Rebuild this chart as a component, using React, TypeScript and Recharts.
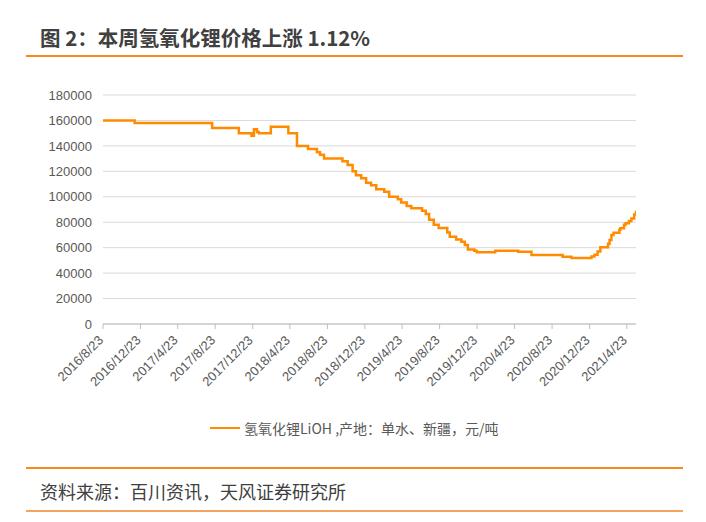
import React from "react";
import { LineChart, Line, XAxis, YAxis, CartesianGrid } from "recharts";

const priceDates: string[] = [
  "2016/8/23", "2016/12/4", "2017/8/13", "2017/11/8", "2017/12/19", "2017/12/27",
  "2018/1/6", "2018/1/12", "2018/2/20", "2018/4/18", "2018/5/16", "2018/6/21",
  "2018/7/20", "2018/7/30", "2018/8/12", "2018/10/11", "2018/10/28", "2018/11/13",
  "2018/11/24", "2018/12/11", "2018/12/27", "2019/1/12", "2019/1/29", "2019/2/24",
  "2019/3/12", "2019/4/9", "2019/4/20", "2019/5/8", "2019/5/23", "2019/6/27",
  "2019/7/9", "2019/7/20", "2019/8/4", "2019/8/20", "2019/9/17", "2019/9/25",
  "2019/10/16", "2019/11/2", "2019/11/13", "2019/11/23", "2019/12/14", "2019/12/22",
  "2020/2/20", "2020/5/5", "2020/6/17", "2020/9/26", "2020/10/25", "2020/12/29",
  "2021/1/8", "2021/1/18", "2021/1/27", "2021/2/21", "2021/2/26", "2021/3/4",
  "2021/3/11", "2021/3/30", "2021/4/2", "2021/4/14", "2021/4/19", "2021/4/30",
  "2021/5/8", "2021/5/17", "2021/5/23",
];

const lithiumHydroxide: number[] = [
  160000, 158000, 154000, 150000, 148000, 153000,
  151000, 150000, 155000, 150000, 140000, 137500,
  135000, 133000, 130000, 128000, 125000, 120000,
  117000, 114500, 111000, 109000, 106000, 104000,
  100000, 98000, 95500, 92700, 91000, 89000,
  86500, 82000, 78000, 75500, 72000, 68500,
  66500, 64700, 62000, 58500, 57500, 56400,
  57600, 56800, 54200, 52800, 51800, 53000,
  54500, 57000, 60300, 63000, 66000, 70000,
  71800, 74000, 75200, 78000, 79100, 81000,
  83000, 86000, 89000,
];

const xTickLabels: string[] = [
  "2016/8/23", "2016/12/23", "2017/4/23", "2017/8/23", "2017/12/23",
  "2018/4/23", "2018/8/23", "2018/12/23", "2019/4/23", "2019/8/23",
  "2019/12/23", "2020/4/23", "2020/8/23", "2020/12/23", "2021/4/23",
];

const yTicks: number[] = [0, 20000, 40000, 60000, 80000, 100000, 120000, 140000, 160000, 180000];

const axisStart = "2016/8/23";
const axisEnd = "2021/5/23";

const seriesName = "氢氧化锂LiOH ,产地：单水、新疆，元/吨";
const titleText = "图 2：本周氢氧化锂价格上涨 1.12%";
const sourceText = "资料来源：百川资讯，天风证券研究所";

const toDay = (s: string): number => {
  const [y, m, d] = s.split("/").map(Number);
  return Date.UTC(y, m - 1, d) / 86400000;
};

const data = priceDates.map((d, i) => ({ t: toDay(d), v: lithiumHydroxide[i] }));
const xTicks = xTickLabels.map(toDay);
const labelByDay: Record<number, string> = {};
xTickLabels.forEach((l) => (labelByDay[toDay(l)] = l));

const LATIN = "'Liberation Sans', Arial, 'Noto Sans CJK SC', sans-serif";
const CJK = "'Noto Sans CJK SC', 'Liberation Sans', sans-serif";
const ORANGE = "#FF8C00";

const XTick = (props: any) => {
  const { x, y, payload } = props;
  const ax = x + 1;
  const ay = y + 10;
  return (
    <text
      x={ax}
      y={ay}
      transform={`rotate(-45, ${ax}, ${ay})`}
      textAnchor="end"
      fontSize={13}
      fontFamily={LATIN}
      fill="#595959"
    >
      {labelByDay[payload.value] ?? ""}
    </text>
  );
};

export default function App() {
  return (
    <div
      style={{
        position: "absolute",
        left: 0,
        top: 0,
        width: 706,
        height: 522,
        background: "#ffffff",
        overflow: "hidden",
      }}
    >
      <div
        style={{
          position: "absolute",
          left: 40,
          top: 23,
          fontFamily: CJK,
          fontWeight: 700,
          fontSize: 20.5,
          lineHeight: "28px",
          color: "#404040",
          whiteSpace: "nowrap",
        }}
      >
        {titleText}
      </div>
      <div style={{ position: "absolute", left: 26, top: 55, width: 657, height: 2, background: "#F28A1E" }} />

      <div style={{ position: "absolute", left: 0, top: 0 }}>
        <LineChart
          width={706}
          height={522}
          data={data}
          margin={{ top: 95, right: 70, bottom: 128, left: 43 }}
        >
          <CartesianGrid vertical={false} stroke="#d9d9d9" strokeWidth={1} />
          <XAxis
            dataKey="t"
            type="number"
            domain={[toDay(axisStart), toDay(axisEnd)]}
            ticks={xTicks}
            interval={0}
            allowDataOverflow
            height={70}
            tick={<XTick />}
            tickLine={{ stroke: "#bfbfbf" }}
            tickSize={5}
            axisLine={{ stroke: "#bfbfbf" }}
          />
          <YAxis
            type="number"
            domain={[0, 180000]}
            ticks={yTicks}
            interval={0}
            width={60}
            axisLine={false}
            tickLine={false}
            tickMargin={5}
            tick={{ fontSize: 13, fill: "#595959", fontFamily: LATIN }}
          />
          <Line
            type="stepAfter"
            dataKey="v"
            name={seriesName}
            stroke={ORANGE}
            strokeWidth={2.5}
            dot={false}
            isAnimationActive={false}
          />
        </LineChart>
      </div>

      <div
        style={{
          position: "absolute",
          left: 210,
          top: 418,
          display: "flex",
          alignItems: "center",
          height: 20,
          whiteSpace: "nowrap",
        }}
      >
        <div style={{ width: 30, height: 2.5, background: ORANGE, marginRight: 4 }} />
        <span style={{ fontFamily: CJK, fontSize: 14, color: "#595959", lineHeight: "20px" }}>
          {seriesName}
        </span>
      </div>

      <div style={{ position: "absolute", left: 26, top: 467, width: 657, height: 2, background: "#F28A1E" }} />
      <div
        style={{
          position: "absolute",
          left: 40,
          top: 479,
          fontFamily: CJK,
          fontSize: 18,
          lineHeight: "24px",
          color: "#404040",
          whiteSpace: "nowrap",
        }}
      >
        {sourceText}
      </div>
      <div style={{ position: "absolute", left: 26, top: 510, width: 657, height: 2, background: "#F5A460" }} />
    </div>
  );
}
